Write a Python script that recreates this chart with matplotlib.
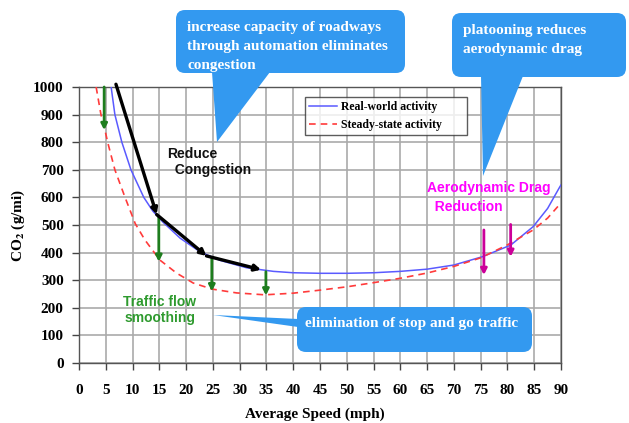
import numpy as np
import matplotlib
matplotlib.use("Agg")
import matplotlib.pyplot as plt
from matplotlib.patches import FancyBboxPatch, Polygon
from matplotlib.transforms import Affine2D

# real-world activity curve (mph, g/mi)
real_speed = [6.0, 6.7, 8.0, 9.7, 12.1, 13.8, 15.7, 18.9, 22.6, 26.3, 31.3, 36.3, 40, 45, 50,
              55, 60, 65, 70, 75.3, 80.6, 84.8, 87.5, 89.8, 90]
real_co2 = [1000, 900, 800, 700, 600, 550, 510, 452, 403, 372, 345, 332, 327, 325, 325,
            327, 332, 340, 355, 385, 427, 494, 560, 639, 645]

# steady-state activity curve
steady_speed = [3.2, 4.1, 4.8, 5.35, 6.7, 8.6, 10.5, 12.3, 15.1, 18.2, 21.3, 24.8, 29.4, 34.7,
                40, 45, 50, 55, 60, 65, 70, 75, 80, 84.8, 87.5, 90]
steady_co2 = [1000, 900, 848, 800, 700, 600, 505, 446, 373, 326, 290, 268, 254, 247,
              253, 264, 276, 291, 307, 326, 350, 381, 428, 482, 525, 580]

# congestion-reduction path (black arrows)
cong_speed = [6.9, 14.5, 23.8, 34.0]
cong_co2 = [1010, 538, 388, 338]

# traffic flow smoothing (green arrows)
smooth_speed = [4.7, 14.9, 24.8, 34.9]
smooth_top = [1000, 528, 383, 331]
smooth_bot = [844, 367, 260, 245]

# drag reduction (magenta arrows)
drag_speed = [75.6, 80.6]
drag_top = [482, 502]
drag_bot = [319, 385]

W, H = 629, 423
plt.rcParams['mathtext.fontset'] = 'stix'
serif = 'Liberation Serif'
sans = 'Liberation Sans'
callout_col = '#3399f0'

fig = plt.figure(figsize=(W / 100, H / 100), dpi=100)
ax = fig.add_axes([79 / W, 1 - 363 / H, 482 / W, 276 / H])

ax.plot(real_speed, real_co2, color='#5a5aff', lw=1.1, label='Real-world activity', zorder=3)
ax.plot(steady_speed, steady_co2, color='#ff3b3b', lw=1.2, ls=(0, (4, 3)),
        label='Steady-state activity', zorder=3)

for i in range(len(cong_speed) - 1):
    ax.annotate('', xy=(cong_speed[i + 1], cong_co2[i + 1]), xytext=(cong_speed[i], cong_co2[i]),
                arrowprops=dict(arrowstyle='-|>,head_length=0.35,head_width=0.18', color='black',
                                lw=2.4, shrinkA=0, shrinkB=0), zorder=5, annotation_clip=False)

for s, t, b in zip(smooth_speed, smooth_top, smooth_bot):
    ax.annotate('', xy=(s, b), xytext=(s, t),
                arrowprops=dict(arrowstyle='-|>,head_length=0.35,head_width=0.18', color='#1e7d1e',
                                lw=2.0, shrinkA=0, shrinkB=0), zorder=4)

for s, t, b in zip(drag_speed, drag_top, drag_bot):
    ax.annotate('', xy=(s, b), xytext=(s, t),
                arrowprops=dict(arrowstyle='-|>,head_length=0.35,head_width=0.18', color='#cc0099',
                                lw=2.0, shrinkA=0, shrinkB=0), zorder=4)

ax.set_xlim(0, 90)
ax.set_ylim(0, 1000)
ax.set_xticks(np.arange(0, 91, 5))
ax.set_yticks(np.arange(0, 1001, 100))
ax.grid(True, color='#aaaaaa', lw=1.2)
ax.set_axisbelow(True)
for sp in ax.spines.values():
    sp.set_color('#555555')
    sp.set_linewidth(1.0)
ax.tick_params(axis='both', direction='out', length=5, width=1, color='#444444')
ax.tick_params(axis='x', pad=10)
ax.tick_params(axis='y', pad=6)
for lab in ax.get_xticklabels() + ax.get_yticklabels():
    lab.set_fontfamily(serif)
    lab.set_fontweight('bold')
    lab.set_fontsize(11)

ax.set_xlabel('Average Speed (mph)', fontsize=11, fontweight='bold', family=serif)
ax.set_ylabel(r'CO$_\mathbf{2}$ (g/mi)', fontsize=11, fontweight='bold', family=serif)
ax.xaxis.set_label_coords(0.49, -0.16)
ax.yaxis.set_label_coords(-0.108, 0.5)

leg = ax.legend(loc='upper left', bbox_to_anchor=(226 / 482, 230 / 276, 162 / 482, 36 / 276),
                mode='expand', borderaxespad=0, frameon=True, fancybox=False,
                prop=dict(family=serif, weight='bold', size=8.5),
                handlelength=2.4, borderpad=0.35, labelspacing=0.5, handletextpad=0.3)
leg.get_frame().set_edgecolor('#333333')
leg.get_frame().set_linewidth(1.0)

# text labels inside the chart
ax.text(16.4, 728, 'Reduce\n  Congestion', family=sans, fontweight='bold', fontsize=10,
        color='#111111', va='center', ha='left', linespacing=1.25)
ax.text(15.1, 192, 'Traffic flow\nsmoothing', family=sans, fontweight='bold', fontsize=10,
        color='#2e9a2e', va='center', ha='center', linespacing=1.15)
ax.text(65.0, 600, 'Aerodynamic Drag\n  Reduction', family=sans, fontweight='bold', fontsize=10,
        color='#ff00ff', va='center', ha='left', linespacing=1.4)

# speech-bubble callouts in pixel coordinates (origin top-left)
tr = Affine2D().scale(1, -1).translate(0, H).scale(1 / W, 1 / H) + fig.transFigure


def callout(x0, y0, x1, y1, tail, text, tx, ty):
    box = FancyBboxPatch((x0, y0), x1 - x0, y1 - y0, boxstyle='round,pad=0,rounding_size=9',
                         transform=tr, facecolor=callout_col, edgecolor='none', zorder=10)
    fig.patches.append(box)
    fig.patches.append(Polygon(tail, closed=True, transform=tr, facecolor=callout_col,
                               edgecolor='none', zorder=10))
    fig.text(tx, ty, text, transform=tr, family=serif, fontweight='bold', fontsize=11,
             color='white', va='top', ha='left', linespacing=1.58, zorder=11)


callout(176, 10, 405, 73, [(212, 72), (270, 72), (217, 142)],
        'increase capacity of roadways\nthrough automation eliminates\ncongestion', 187, 21)
callout(452, 13, 626, 77, [(481, 76), (523, 76), (483, 176)],
        'platooning reduces\naerodynamic drag', 463, 24)
callout(297, 307, 532, 352, [(298, 319), (298, 327), (213, 315)],
        'elimination of stop and go traffic', 305, 317)

fig.savefig('out.png', dpi=100)
